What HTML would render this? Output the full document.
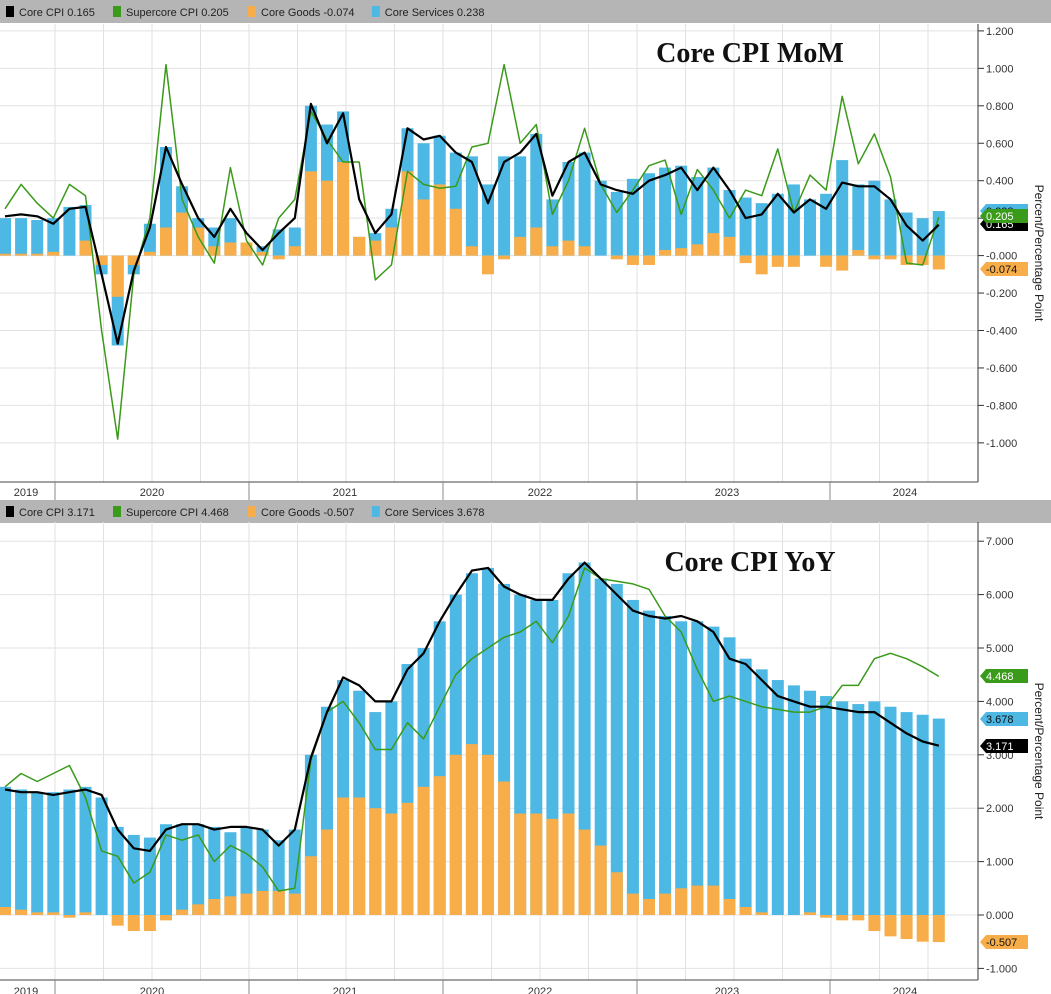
<!DOCTYPE html><html><head><meta charset="utf-8"><style>
body{margin:0;background:#fff;width:1051px;height:994px;overflow:hidden;font-family:"Liberation Sans",sans-serif}
svg{display:block}
</style></head><body>
<svg id="s" width="1051" height="994" xmlns="http://www.w3.org/2000/svg" font-family="Liberation Sans, sans-serif"></svg>
<script>
const S=document.getElementById('s');let h='';
function add(t){h+=t}
const XS=i=>5+16.1*i;
function panel(o){
 const {top,bot,ymin,ymax,step,zeroY,unit,fmt,title,titleY,legY,leg,svc,gds,cpi,sup,tags,axisY,labY}=o;
 const Y=v=>zeroY-v*unit;
 add(`<rect x="0" y="${legY}" width="1051" height="23" fill="#b5b5b5"/>`);
 let lx=6;
 leg.forEach(([c,t])=>{add(`<rect x="${lx}" y="${legY+6}" width="8" height="11" fill="${c}"/><text x="${lx+13}" y="${legY+16}" font-size="11" fill="#222">${t}</text>`);lx+=13+t.length*5.6+10;});
 for(let x=55;x<975;x+=48.5)add(`<line x1="${x}" y1="${top}" x2="${x}" y2="${bot}" stroke="#e2e2e2"/>`);
 for(let v=ymin;v<=ymax+1e-9;v+=step){const y=Y(v);add(`<line x1="0" y1="${y}" x2="978" y2="${y}" stroke="#e2e2e2"/><line x1="978" y1="${y}" x2="984" y2="${y}" stroke="#333"/><text x="986" y="${y+4}" font-size="11" fill="#333">${fmt(v)}</text>`);}
 add(`<line x1="978" y1="${top}" x2="978" y2="${bot}" stroke="#333"/>`);
 add(`<line x1="0" y1="${axisY}" x2="978" y2="${axisY}" stroke="#444"/>`);
 [[55,null],[249,null],[443,null],[637,null],[830,null]].forEach(([x])=>add(`<line x1="${x}" y1="${axisY}" x2="${x}" y2="${axisY+18}" stroke="#888"/>`));
 [[26,'2019'],[152,'2020'],[345,'2021'],[540,'2022'],[727,'2023'],[905,'2024']].forEach(([x,t])=>add(`<text x="${x}" y="${labY}" font-size="11" fill="#333" text-anchor="middle">${t}</text>`));
 svc.forEach((v,i)=>{const x=XS(i)-6;const y0=Y(0),y1=Y(v);add(`<rect x="${x}" y="${Math.min(y0,y1)}" width="12" height="${Math.abs(y1-y0)}" fill="#4db8e3"/>`)});
 gds.forEach((v,i)=>{const x=XS(i)-6;const y0=Y(0),y1=Y(v);add(`<rect x="${x}" y="${Math.min(y0,y1)}" width="12" height="${Math.abs(y1-y0)}" fill="#f7ae4a"/>`)});
 const pl=(a,c,w)=>add(`<polyline fill="none" stroke="${c}" stroke-width="${w}" stroke-linejoin="round" points="${a.map((v,i)=>XS(i).toFixed(1)+','+Y(v).toFixed(1)).join(' ')}"/>`);
 pl(sup,'#3a9a1a',1.5);pl(cpi,'#000',2.2);
 add(`<text x="750" y="${titleY}" font-family="Liberation Serif, serif" font-weight="bold" font-size="28" text-anchor="middle" fill="#111">${title}</text>`);
 tags.forEach(([y,c,tc,t])=>add(`<path d="M980 ${y} l6 -7 h42 v14 h-42 z" fill="${c}"/><text x="986" y="${y+4}" font-size="11" fill="${tc}">${t}</text>`));
 add(`<text transform="translate(1035,${(top+bot)/2}) rotate(90)" font-size="12" fill="#222" text-anchor="middle">Percent/Percentage Point</text>`);
}
panel({top:24,bot:482,ymin:-1,ymax:1.2,step:0.2,zeroY:255.6,unit:187.25,fmt:v=>v.toFixed(3),title:'Core CPI MoM',titleY:62,legY:0,axisY:482,labY:496,
leg:[['#000','Core CPI  0.165'],['#3a9a1a','Supercore CPI  0.205'],['#f7ae4a','Core Goods  -0.074'],['#4db8e3','Core Services  0.238']],
svc:[.2,.2,.19,.2,.26,.27,-.1,-.48,-.1,.17,.58,.37,.2,.15,.2,.07,.05,.14,.15,.8,.7,.77,.1,.12,.25,.68,.6,.64,.55,.53,.38,.53,.53,.65,.3,.5,.55,.4,.34,.41,.44,.47,.48,.42,.47,.35,.31,.28,.33,.38,.3,.33,.51,.38,.4,.3,.23,.2,.238],
gds:[.01,.01,.01,.02,0,.08,-.05,-.22,-.05,.02,.15,.23,.15,.05,.07,.07,.02,-.02,.05,.45,.4,.5,.1,.08,.15,.45,.3,.38,.25,.05,-.1,-.02,.1,.15,.05,.08,.05,0,-.02,-.05,-.05,.03,.04,.06,.12,.1,-.04,-.1,-.06,-.06,0,-.06,-.08,.03,-.02,-.02,-.05,-.05,-.074],
cpi:[.21,.22,.21,.17,.25,.26,-.1,-.47,-.08,.15,.58,.38,.2,.1,.25,.12,.03,.12,.2,.81,.6,.76,.3,.12,.22,.68,.62,.64,.55,.5,.28,.5,.55,.65,.32,.5,.55,.38,.35,.33,.4,.43,.47,.35,.47,.35,.2,.22,.33,.23,.3,.25,.39,.37,.37,.3,.16,.08,.165],
sup:[.25,.38,.28,.2,.38,.32,-.4,-.98,-.1,.2,1.02,.3,.1,-.04,.47,.08,-.05,.2,.3,.77,.62,.5,.5,-.13,-.05,.45,.38,.36,.37,.58,.6,1.02,.6,.7,.22,.4,.68,.38,.23,.35,.48,.51,.22,.46,.35,.2,.35,.32,.57,.23,.43,.35,.85,.49,.65,.42,-.04,-.05,.205],
tags:[[211,'#4db8e3','#111','0.238'],[224,'#000','#fff','0.165'],[216,'#3a9a1a','#fff','0.205'],[269,'#f7ae4a','#111','-0.074']]});
panel({top:522,bot:980,ymin:-1,ymax:7,step:1,zeroY:915,unit:53.4,fmt:v=>v.toFixed(3),title:'Core CPI YoY',titleY:571,legY:500,axisY:980,labY:995,
leg:[['#000','Core CPI  3.171'],['#3a9a1a','Supercore CPI  4.468'],['#f7ae4a','Core Goods  -0.507'],['#4db8e3','Core Services  3.678']],
svc:[2.4,2.35,2.3,2.3,2.35,2.4,2.2,1.65,1.5,1.45,1.7,1.7,1.7,1.65,1.55,1.65,1.6,1.4,1.6,3,3.9,4.4,4.2,3.8,4,4.7,5,5.5,6,6.4,6.5,6.2,6,5.9,5.9,6.4,6.6,6.3,6.2,5.9,5.7,5.6,5.5,5.5,5.4,5.2,4.8,4.6,4.4,4.3,4.2,4.1,4,3.95,4,3.9,3.8,3.75,3.678],
gds:[.15,.1,.05,.05,-.05,.05,0,-.2,-.3,-.3,-.1,.1,.2,.3,.35,.4,.45,.45,.4,1.1,1.6,2.2,2.2,2,1.9,2.1,2.4,2.6,3,3.2,3,2.5,1.9,1.9,1.8,1.9,1.6,1.3,.8,.4,.3,.4,.5,.55,.55,.3,.15,.05,0,0,.05,-.05,-.1,-.1,-.3,-.4,-.45,-.5,-.507],
cpi:[2.35,2.3,2.3,2.25,2.3,2.35,2.25,1.6,1.25,1.2,1.6,1.7,1.7,1.6,1.65,1.65,1.6,1.3,1.6,2.95,3.8,4.45,4.3,4,4,4.6,4.9,5.5,6,6.45,6.5,6.15,6,5.9,5.9,6.3,6.6,6.3,6,5.7,5.6,5.55,5.6,5.5,5.3,4.8,4.7,4.4,4.1,4,3.9,3.9,3.85,3.8,3.8,3.6,3.4,3.25,3.171],
sup:[2.4,2.65,2.5,2.65,2.8,2.2,1.2,1.1,.6,.8,1.5,1.4,1.5,1,1.3,1.15,.9,.45,.5,2.9,3.8,4,3.6,3.1,3.1,3.6,3.3,3.9,4.5,4.8,5,5.2,5.3,5.5,5.1,5.6,6.5,6.3,6.25,6.2,6.1,5.6,5.3,4.6,4,4.1,4,3.9,3.85,3.8,3.8,3.9,4.3,4.3,4.8,4.9,4.8,4.65,4.468],
tags:[[676,'#3a9a1a','#fff','4.468'],[719,'#4db8e3','#111','3.678'],[746,'#000','#fff','3.171'],[942,'#f7ae4a','#111','-0.507']]});
S.innerHTML=h;
</script>
</body></html>
